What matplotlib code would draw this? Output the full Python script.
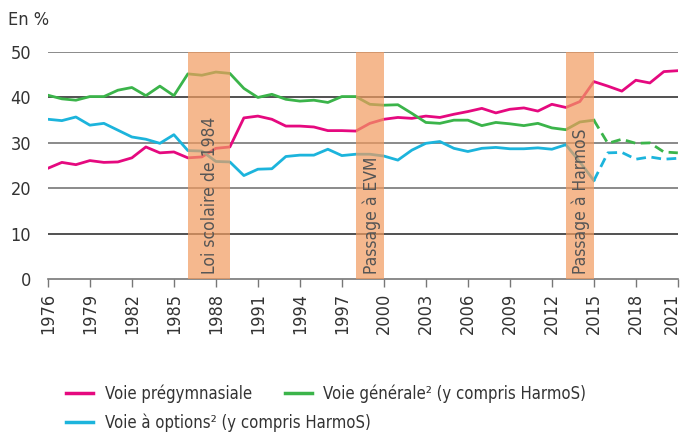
import matplotlib.pyplot as plt
import matplotlib.transforms as mtransforms
from matplotlib.lines import Line2D

plt.rcParams['font.family'] = ['DejaVu Sans']
plt.rcParams['font.stretch'] = 'condensed'

years = list(range(1976, 2022))

pregymnasiale = [24.4, 25.7, 25.2, 26.1, 25.7, 25.8, 26.7, 29.1, 27.8, 28.0,
                 26.7, 26.9, 28.8, 29.1, 35.5, 35.9, 35.2, 33.7, 33.7, 33.5,
                 32.7, 32.7, 32.6, 34.3, 35.2, 35.6, 35.4, 35.9, 35.6, 36.3,
                 36.9, 37.6, 36.6, 37.4, 37.7, 37.0, 38.5, 37.8, 39.1, 43.5,
                 42.5, 41.4, 43.8, 43.2, 45.7, 45.9]

generale = [40.5, 39.7, 39.4, 40.2, 40.2, 41.6, 42.2, 40.4, 42.5, 40.4,
            45.2, 44.9, 45.6, 45.3, 42.0, 40.0, 40.7, 39.6, 39.2, 39.4,
            38.9, 40.2, 40.2, 38.5, 38.3, 38.4, 36.5, 34.5, 34.3, 35.0,
            35.0, 33.8, 34.5, 34.2, 33.8, 34.3, 33.3, 32.9, 34.6, 35.0,
            29.9, 30.8, 29.9, 30.0, 28.0, 27.8]

options = [35.2, 34.9, 35.7, 33.9, 34.3, 32.8, 31.3, 30.8, 29.9, 31.8,
           28.3, 28.2, 25.9, 25.8, 22.8, 24.2, 24.3, 27.0, 27.3, 27.3,
           28.6, 27.2, 27.5, 27.5, 27.1, 26.2, 28.4, 29.9, 30.3, 28.8,
           28.1, 28.8, 29.0, 28.7, 28.7, 28.9, 28.6, 29.6, 25.8, 21.7,
           27.8, 27.9, 26.4, 26.9, 26.4, 26.6]

bands = [(1986, 1989, 'Loi scolaire de 1984'),
         (1998, 2000, 'Passage à EVM'),
         (2013, 2015, 'Passage à HarmoS')]

c_pre = '#e5097f'
c_gen = '#3bb44a'
c_opt = '#1cb4dc'

fig = plt.figure(figsize=(6.84, 4.34), dpi=100)
ax = fig.add_axes([0.070, 0.357, 0.921, 0.523])

split = years.index(2015)
ax.plot(years, pregymnasiale, color=c_pre, lw=2, zorder=3)
ax.plot(years[:split + 1], generale[:split + 1], color=c_gen, lw=2, zorder=3)
ax.plot(years[split:], generale[split:], color=c_gen, lw=2, ls=(0, (3.5, 2)), zorder=3)
ax.plot(years[:split + 1], options[:split + 1], color=c_opt, lw=2, zorder=3)
ax.plot(years[split:], options[split:], color=c_opt, lw=2, ls=(0, (3.5, 2)), zorder=3)

for x0, x1, lab in bands:
    ax.axvspan(x0, x1, ymin=0, ymax=1, color='#f29b5f', alpha=0.7, lw=0, zorder=4)
    ax.text((x0 + x1) / 2 + 0.1, 1.2, lab, rotation=90, ha='center', va='bottom',
            fontsize=12.5, color='#555555', zorder=5)

for v in [10, 20, 30, 40, 50]:
    ax.axhline(v, color='#333333' if v in (10, 40) else '#777777', lw=1.2, zorder=1)

ax.set_xlim(1976, 2021)
ax.set_ylim(0, 50)
ax.set_yticks([0, 10, 20, 30, 40, 50])
ax.set_xticks(list(range(1976, 2022, 3)))
ax.set_xticklabels([str(y) for y in range(1976, 2022, 3)], rotation=90)
for s in ['top', 'right', 'left']:
    ax.spines[s].set_visible(False)
ax.spines['bottom'].set_color('#777777')
ax.spines['bottom'].set_linewidth(1.2)
ax.tick_params(axis='x', direction='out', length=6, width=1, color='#777777',
               labelsize=13, labelcolor='#333333', pad=4)
ax.tick_params(axis='y', length=0, labelsize=13, labelcolor='#333333', pad=12)

# last year label pushed left so it stays inside the figure
last = ax.get_xticklabels()[-1]
last.set_transform(last.get_transform() +
                   mtransforms.ScaledTranslation(-6 / 100, 0, fig.dpi_scale_trans))

fig.text(0.012, 0.955, 'En %', fontsize=13, color='#333333', va='center')

h_pre = Line2D([], [], color=c_pre, lw=2.5)
h_gen = Line2D([], [], color=c_gen, lw=2.5)
h_opt = Line2D([], [], color=c_opt, lw=2.5)
fig.legend([h_pre, h_gen], ['Voie prégymnasiale', 'Voie générale² (y compris HarmoS)'],
           loc='center left', bbox_to_anchor=(0.075, 0.092), ncol=2, frameon=False,
           fontsize=12, handlelength=1.6, handletextpad=0.7, columnspacing=2.0,
           labelcolor='#333333')
fig.legend([h_opt], ['Voie à options² (y compris HarmoS)'],
           loc='center left', bbox_to_anchor=(0.075, 0.027), frameon=False,
           fontsize=12, handlelength=1.6, handletextpad=0.7, labelcolor='#333333')

fig.savefig('out.png', dpi=100)
